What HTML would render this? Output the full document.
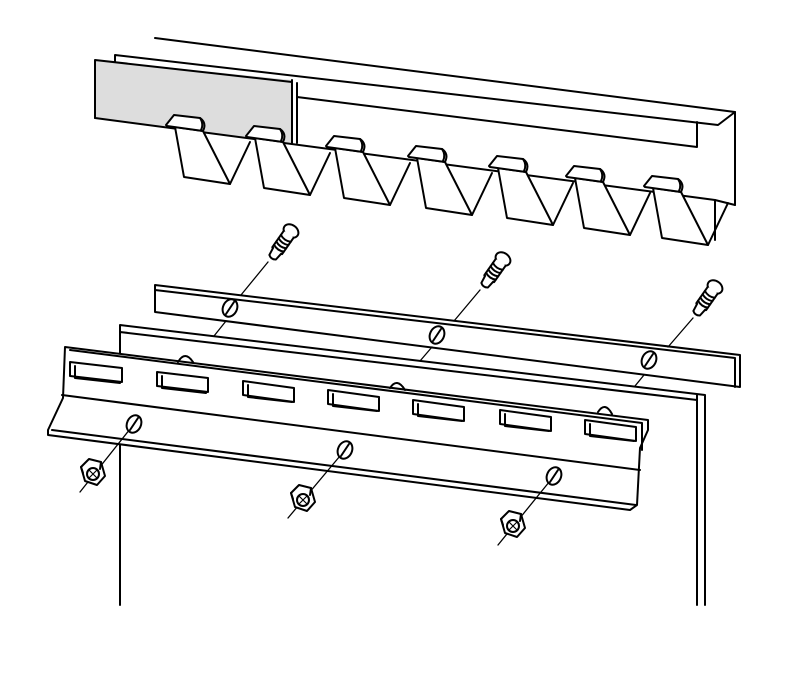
<!DOCTYPE html>
<html><head><style>html,body{margin:0;padding:0;background:#fff}svg{display:block}</style></head>
<body>
<svg width="800" height="675" viewBox="0 0 800 675" xmlns="http://www.w3.org/2000/svg" fill="none" stroke="#000" stroke-width="2" stroke-linejoin="round" stroke-linecap="round">
<defs>
<g id="tooth">
  <path d="M5,12 L14,62 L60,69 L33,16 Z" fill="#fff"/>
  <path d="M60,69 L80,27"/>
  <path d="M-4,10 L4,0 L30,3 Q37,8 33,16 L-3,11 Z" fill="#fff"/>
  <path d="M30,3 Q34,9 31,15"/>
</g>
<g id="screw">
  <ellipse cx="0" cy="0" rx="8" ry="6" fill="#fff"/>
  <path d="M-6,4 L-6,24 Q0,28 6,24 L6,4" fill="#fff"/>
  <path d="M-6,9 Q0,12 6,9 M-6,13 Q0,16 6,13 M-6,17 Q0,20 6,17 M-6,21 Q0,24 6,21"/>
  <path d="M-5,24 L-4,32 Q0,35 4,32 L5,24" fill="#fff"/>
</g>
<g id="nut">
  <polygon points="-12,-5 -4,-13 8,-10 12,4 4,13 -8,9" fill="#fff"/>
  <path d="M-12,-5 L-10,1 M8,-10 L7,-3"/>
  <circle cx="0" cy="2" r="6" fill="#fff"/>
  <path d="M-4,6 L4,-2 M-4,-2 L4,6" stroke-width="1.2"/>
</g>
<g id="hole"><ellipse cx="0" cy="0" rx="7" ry="9" fill="#fff" transform="rotate(25)"/><path d="M-4,6 L4,-6"/></g>
</defs>

<!-- top rail -->
<path d="M155,38 L735,112"/>
<path d="M115,62 L115,55 L718,125 L735,112 L735,205"/>
<polygon points="95,60 292,80 292,143 95,118" fill="#ddd" stroke="none"/>
<path d="M95,60 L292,82 M95,60 L95,118"/>
<path d="M292,80 L292,143 M297,83 L297,143"/>
<path d="M297,97 L697,147 L697,122"/>
<path d="M95,118 L715,200 L735,205"/>
<path d="M715,200 L715,240"/>

<use href="#tooth" x="170" y="115"/>
<use href="#tooth" x="250" y="126"/>
<use href="#tooth" x="330" y="136"/>
<use href="#tooth" x="412" y="146"/>
<use href="#tooth" x="493" y="156"/>
<use href="#tooth" x="570" y="166"/>
<use href="#tooth" x="648" y="176"/>

<!-- plate -->
<path d="M120,605 L120,325 L705,395 L705,605 M697,395 L697,605 M120,332 L697,400"/>

<!-- strip -->
<polygon points="155,285 740,355 740,387 155,312" fill="#fff"/>
<path d="M155,290 L735,358 L735,387"/>

<!-- bracket -->
<path d="M65,347 L648,420 L648,430 L640,448 L637,505 L630,510 L48,435 L48,430 L63,398 L65,347 Z" fill="#fff"/>
<path d="M70,350 L642,423 M62,395 L640,470 M52,430 L636,505 M642,423 L642,450"/>
<g fill="#fff">
<polygon points="70,362 122,368 122,382 70,376"/>
<polygon points="157,372 208,378 208,392 157,386"/>
<polygon points="243,381 294,388 294,402 243,395"/>
<polygon points="328,390 379,397 379,411 328,404"/>
<polygon points="413,400 464,407 464,421 413,414"/>
<polygon points="500,410 551,417 551,431 500,424"/>
<polygon points="585,420 636,427 636,441 585,434"/>
</g>
<path d="M75,366 L75,378 L120,383 M162,376 L162,388 L206,393 M248,385 L248,397 L292,402 M333,394 L333,406 L377,411 M418,404 L418,416 L462,421 M505,414 L505,426 L549,431 M590,424 L590,436 L634,441"/>
<path d="M178,362 Q185,350 193,362 M390,388 Q397,377 405,390 M598,412 Q605,401 612,414"/>

<!-- screw lines (visible segments) -->
<g stroke-width="1.3">
<path d="M268,262 L241,295 M226,321 L214,336 M134,424 L80,492"/>
<path d="M480,290 L454,321 M432,347 L420,361 M345,450 L288,518"/>
<path d="M693,318 L668,347 M644,375 L635,386 M554,476 L498,545"/>
</g>

<use href="#screw" transform="translate(291,231) rotate(35)"/>
<use href="#screw" transform="translate(503,259) rotate(35)"/>
<use href="#screw" transform="translate(715,287) rotate(35)"/>

<use href="#hole" x="230" y="308"/>
<use href="#hole" x="437" y="335"/>
<use href="#hole" x="649" y="360"/>
<use href="#hole" x="134" y="424"/>
<use href="#hole" x="345" y="450"/>
<use href="#hole" x="554" y="476"/>

<use href="#nut" x="93" y="472"/>
<use href="#nut" x="303" y="498"/>
<use href="#nut" x="513" y="524"/>
</svg>
</body></html>
